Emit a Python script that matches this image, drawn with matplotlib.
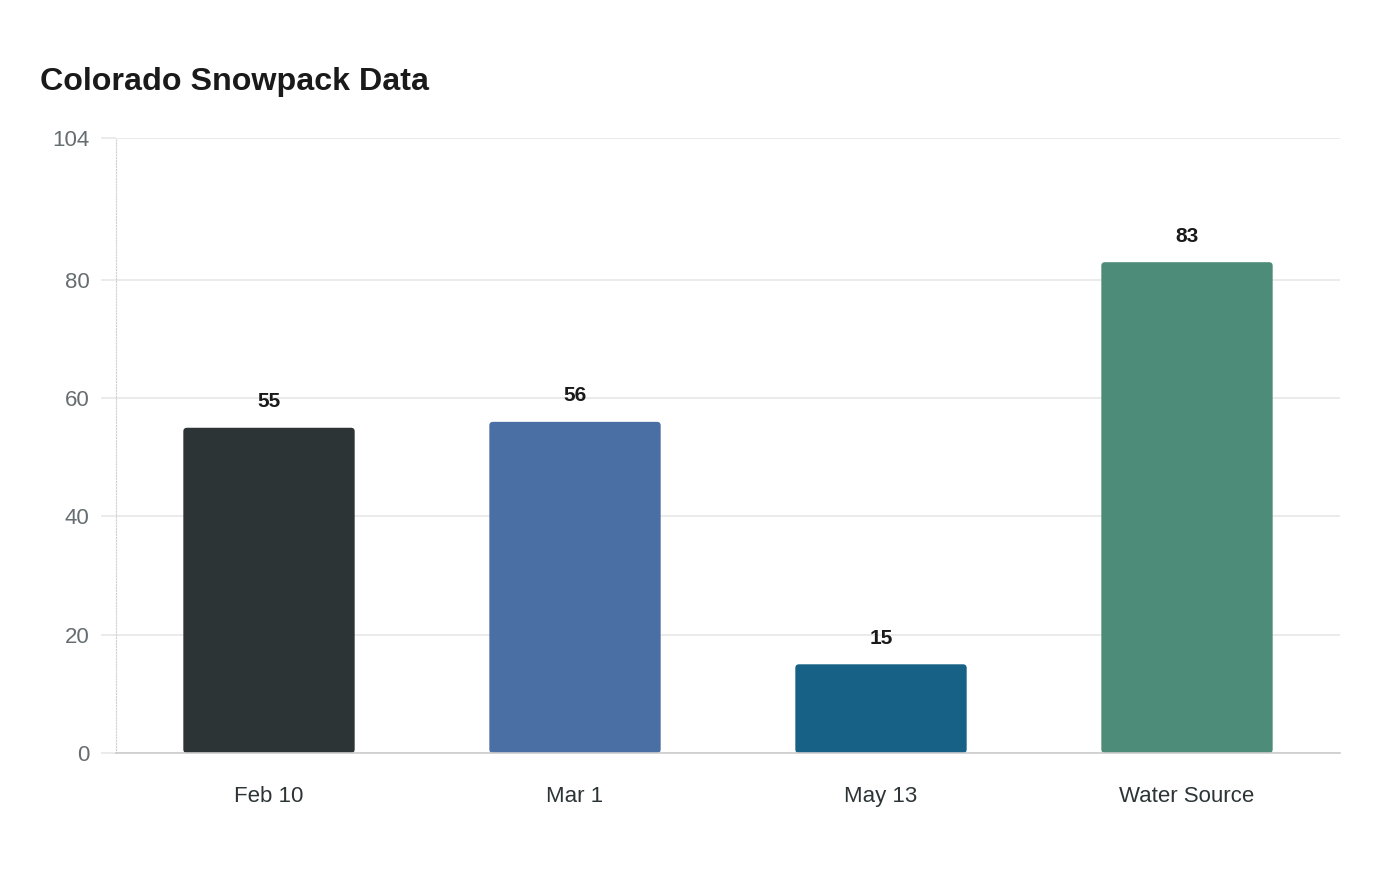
import matplotlib
matplotlib.use("Agg")
import matplotlib.pyplot as plt
from matplotlib.patches import FancyBboxPatch

plt.rcParams['font.family'] = ['Liberation Sans', 'DejaVu Sans']

categories = ["Feb 10", "Mar 1", "May 13", "Water Source"]
values = [55, 56, 15, 83]
colors = ["#2d3436", "#4a6fa5", "#176086", "#4e8c7a"]
yticks = [0, 20, 40, 60, 80, 104]

fig = plt.figure(figsize=(14, 8.8), dpi=100)
ax = fig.add_axes([116 / 1400, 1 - 753 / 880, 1224 / 1400, 615 / 880])

x = list(range(len(categories)))
bars = ax.bar(x, values, width=0.56, color=colors, zorder=3)

# replace the plain rectangles with slightly rounded ones
for b in bars:
    b.set_visible(False)
    p = FancyBboxPatch((b.get_x(), b.get_y()), b.get_width(), b.get_height(),
                       boxstyle="round,pad=0,rounding_size=0.012",
                       mutation_aspect=104 / 4 * 1224 / 615,
                       facecolor=b.get_facecolor(), edgecolor="none", zorder=3)
    ax.add_patch(p)

for xi, v in zip(x, values):
    ax.text(xi, v + 4.4, str(v), ha="center", va="center", fontsize=15,
            fontweight="bold", color="#1a1a1a")

ax.set_xlim(-0.5, len(categories) - 0.5)
ax.set_ylim(0, 104)
ax.set_yticks(yticks)
ax.set_xticks(x)
ax.set_xticklabels(categories)

ax.grid(axis="y", color="#e8e8e8", linewidth=1.2, zorder=0)
ax.tick_params(axis="y", length=11, color="#e8e8e8", width=1.2, pad=8,
               labelsize=16, labelcolor="#666d70")
ax.tick_params(axis="x", length=0, pad=24, labelsize=16, labelcolor="#2d3436")

for s in ["top", "right"]:
    ax.spines[s].set_visible(False)
ax.spines["left"].set_color("#d0d0d0")
ax.spines["left"].set_linestyle(":")
ax.spines["left"].set_linewidth(0.8)
ax.spines["bottom"].set_color("#cccccc")
ax.spines["bottom"].set_linewidth(1.2)
ax.spines["bottom"].set_zorder(4)

fig.text(40 / 1400, 1 - 82 / 880, "Colorado Snowpack Data", fontsize=23.2,
         fontweight="bold", color="#1a1a1a", ha="left", va="center")

fig.savefig("out.png", dpi=100, facecolor="white")
